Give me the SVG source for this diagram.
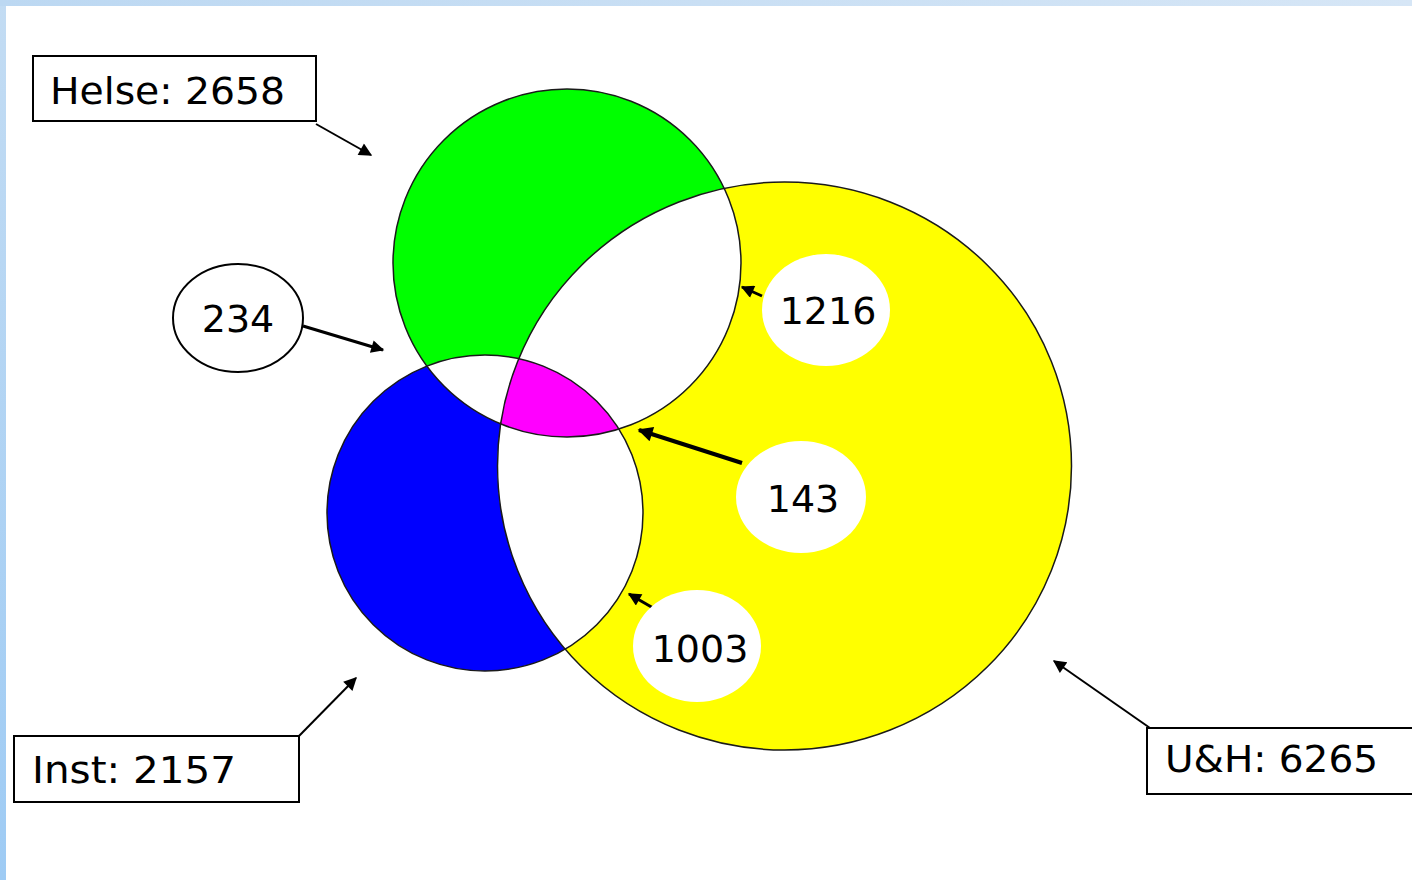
<svg xmlns="http://www.w3.org/2000/svg" width="1412" height="880" viewBox="0 0 1412 880">
<defs>
<linearGradient id="bgL" x1="0" y1="0" x2="0" y2="1">
<stop offset="0" stop-color="#c3dcf3"/><stop offset="1" stop-color="#9ecbf4"/>
</linearGradient>
<linearGradient id="bgT" x1="0" y1="0" x2="1" y2="0">
<stop offset="0" stop-color="#bcd8f2"/><stop offset="1" stop-color="#d6e6f6"/>
</linearGradient>
<clipPath id="cG"><circle cx="567" cy="263" r="174"/></clipPath>
<clipPath id="cB"><circle cx="485" cy="513" r="158"/></clipPath>
<clipPath id="cY"><ellipse cx="784.5" cy="466" rx="287" ry="284"/></clipPath>
<marker id="ah" viewBox="0 0 10 10" refX="9" refY="5" markerWidth="15" markerHeight="13" markerUnits="userSpaceOnUse" orient="auto">
<path d="M0,0 L10,5 L0,10 Z" fill="#000"/>
</marker>
<marker id="ahs" viewBox="0 0 10 10" refX="9" refY="5" markerWidth="17" markerHeight="15" markerUnits="userSpaceOnUse" orient="auto">
<path d="M0,0 L10,5 L0,10 Z" fill="#000"/>
</marker>
</defs>
<style>
.lbl{font-family:"DejaVu Sans","Verdana",sans-serif;font-size:38px;fill:#000}
.box{fill:#fff;stroke:#000;stroke-width:2}
.ring{fill:none;stroke:#1a1a1a;stroke-width:1.5}
.con{stroke:#000;fill:none}
</style>
<rect x="0" y="0" width="1412" height="880" fill="url(#bgL)"/>
<rect x="0" y="0" width="1412" height="6" fill="url(#bgT)"/>
<rect x="6" y="6" width="1406" height="874" fill="#fff"/>

<g id="venn">
<ellipse cx="784.5" cy="466" rx="287" ry="284" fill="#ffff00"/>
<circle cx="567" cy="263" r="174" fill="#00ff00"/>
<circle cx="485" cy="513" r="158" fill="#0000ff"/>
<circle cx="567" cy="263" r="174" fill="#fff" clip-path="url(#cY)"/>
<circle cx="485" cy="513" r="158" fill="#fff" clip-path="url(#cY)"/>
<circle cx="567" cy="263" r="174" fill="#fff" clip-path="url(#cB)"/>
<g clip-path="url(#cY)"><circle cx="567" cy="263" r="174" fill="#ff00ff" clip-path="url(#cB)"/></g>
<ellipse class="ring" cx="784.5" cy="466" rx="287" ry="284"/>
<circle class="ring" cx="567" cy="263" r="174"/>
<circle class="ring" cx="485" cy="513" r="158"/>
</g>

<g id="connectors">
<line class="con" x1="316" y1="124" x2="371" y2="155" stroke-width="2" marker-end="url(#ah)"/>
<line class="con" x1="303" y1="326" x2="383" y2="350" stroke-width="3" marker-end="url(#ah)"/>
<line class="con" x1="762" y1="296" x2="742" y2="287" stroke-width="3" marker-end="url(#ah)"/>
<line class="con" x1="742" y1="463" x2="639" y2="430" stroke-width="4" marker-end="url(#ahs)"/>
<line class="con" x1="660" y1="612" x2="629" y2="594" stroke-width="3" marker-end="url(#ah)"/>
<line class="con" x1="299" y1="736" x2="356" y2="678" stroke-width="2" marker-end="url(#ah)"/>
<line class="con" x1="1150" y1="728" x2="1054" y2="661" stroke-width="2" marker-end="url(#ah)"/>
</g>

<g id="helse">
<rect class="box" x="33" y="56" width="283" height="65"/>
<text class="lbl" x="50" y="104" textLength="235" lengthAdjust="spacingAndGlyphs">Helse: 2658</text>
</g>
<g id="n234">
<ellipse cx="238" cy="318" rx="65" ry="54" fill="#fff" stroke="#000" stroke-width="2"/>
<text class="lbl" x="238" y="332" text-anchor="middle">234</text>
</g>
<g id="n1216">
<ellipse cx="826" cy="310" rx="64" ry="56" fill="#fff"/>
<text class="lbl" x="828" y="324" text-anchor="middle">1216</text>
</g>
<g id="n143">
<ellipse cx="801" cy="497" rx="65" ry="56" fill="#fff"/>
<text class="lbl" x="803" y="512" text-anchor="middle">143</text>
</g>
<g id="n1003">
<ellipse cx="697" cy="646" rx="64" ry="56" fill="#fff"/>
<text class="lbl" x="700" y="662" text-anchor="middle">1003</text>
</g>
<g id="inst">
<rect class="box" x="14" y="736" width="285" height="66"/>
<text class="lbl" x="32" y="783" textLength="204" lengthAdjust="spacingAndGlyphs">Inst: 2157</text>
</g>
<g id="uh">
<rect class="box" x="1147" y="728" width="280" height="66"/>
<text class="lbl" x="1165" y="772" textLength="213" lengthAdjust="spacingAndGlyphs">U&amp;H: 6265</text>
</g>
</svg>
